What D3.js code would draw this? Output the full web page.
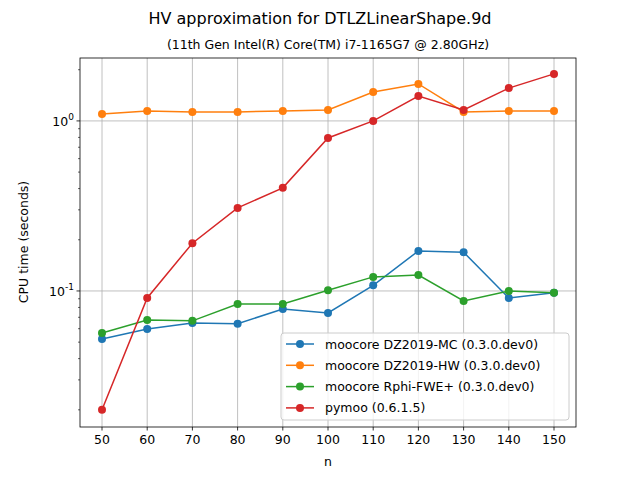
<!DOCTYPE html><html><head><meta charset="utf-8"><script src="https://cdn.jsdelivr.net/npm/d3@7"></script>
<style>body{margin:0;background:#fff}text{font-family:"DejaVu Sans",sans-serif}</style></head><body><svg id="c" width="640" height="480"></svg>
<script>
const ns=[50,60,70,80,90,100,110,120,130,140,150];
const names=["moocore DZ2019-MC (0.3.0.dev0)","moocore DZ2019-HW (0.3.0.dev0)","moocore Rphi-FWE+ (0.3.0.dev0)","pymoo (0.6.1.5)"];
const colors=["#1f77b4","#ff7f0e","#2ca02c","#d62728"];
const mc=[0.0522,0.0598,0.0648,0.0641,0.0784,0.0742,0.108,0.172,0.169,0.091,0.0975];
const hw=[1.10,1.145,1.13,1.13,1.145,1.16,1.48,1.65,1.13,1.145,1.145];
const fwe=[0.0566,0.0675,0.0667,0.0839,0.0839,0.101,0.121,0.124,0.0873,0.1,0.0975];
const pymoo=[0.02,0.091,0.191,0.308,0.404,0.794,1.0,1.40,1.16,1.56,1.89];
const series=[mc,hw,fwe,pymoo];
const svg=d3.select("#c");
const L=80,R=576,T=58,B=427;
const x=d3.scaleLinear().domain([50,150]).range([102,554]);
const y=d3.scaleLog().domain([Math.pow(10,-1.8),Math.pow(10,0.37)]).range([B,T]);
const g=svg.append("g");
ns.forEach(n=>g.append("line").attr("x1",x(n)).attr("x2",x(n)).attr("y1",T).attr("y2",B).attr("stroke","#b0b0b0").attr("stroke-width",0.8));
[0.1,1].forEach(v=>g.append("line").attr("x1",L).attr("x2",R).attr("y1",y(v)).attr("y2",y(v)).attr("stroke","#b0b0b0").attr("stroke-width",0.8));
series.forEach((s,i)=>{
 const line=d3.line().x((d,j)=>x(ns[j])).y(d=>y(d));
 g.append("path").attr("d",line(s)).attr("fill","none").attr("stroke",colors[i]).attr("stroke-width",1.5);
 s.forEach((d,j)=>g.append("circle").attr("cx",x(ns[j])).attr("cy",y(d)).attr("r",4).attr("fill",colors[i]));
});
svg.append("rect").attr("x",L).attr("y",T).attr("width",R-L).attr("height",B-T).attr("fill","none").attr("stroke","#000").attr("stroke-width",0.8);
ns.forEach(n=>{svg.append("line").attr("x1",x(n)).attr("x2",x(n)).attr("y1",B).attr("y2",B+3.5).attr("stroke","#000").attr("stroke-width",0.8);
 svg.append("text").attr("x",x(n)).attr("y",B+17).attr("text-anchor","middle").attr("font-size",13.9*0.9).text(n);});
const minors=[];[0.01,0.1,1].forEach(b=>{for(let k=2;k<10;k++)minors.push(b*k);});
minors.filter(v=>y(v)>=T&&y(v)<=B).forEach(v=>svg.append("line").attr("x1",L-2).attr("x2",L).attr("y1",y(v)).attr("y2",y(v)).attr("stroke","#000").attr("stroke-width",0.6));
[[0.1,"-1"],[1,"0"]].forEach(([v,e])=>{svg.append("line").attr("x1",L-3.5).attr("x2",L).attr("y1",y(v)).attr("y2",y(v)).attr("stroke","#000").attr("stroke-width",0.8);
 const t=svg.append("text").attr("x",L-6).attr("y",y(v)+5).attr("text-anchor","end").attr("font-size",12.5);
 t.append("tspan").text("10");t.append("tspan").attr("dy",-6).attr("font-size",9).text(e);});
svg.append("text").attr("x",328).attr("y",466).attr("text-anchor","middle").attr("font-size",12.5).text("n");
svg.append("text").attr("transform","translate(28,242) rotate(-90)").attr("text-anchor","middle").attr("font-size",12.5).text("CPU time (seconds)");
svg.append("text").attr("x",320).attr("y",24).attr("text-anchor","middle").attr("font-size",16).text("HV approximation for DTLZLinearShape.9d");
svg.append("text").attr("x",328).attr("y",49).attr("text-anchor","middle").attr("font-size",12.5).text("(11th Gen Intel(R) Core(TM) i7-1165G7 @ 2.80GHz)");
const lg=svg.append("g");
lg.append("rect").attr("x",281).attr("y",333).attr("width",288).attr("height",87).attr("rx",3).attr("fill","#fff").attr("fill-opacity",0.8).attr("stroke","#ccc");
names.forEach((nm,i)=>{const yy=344+i*21.3;
 lg.append("line").attr("x1",286).attr("x2",314).attr("y1",yy).attr("y2",yy).attr("stroke",colors[i]).attr("stroke-width",1.5);
 lg.append("circle").attr("cx",300).attr("cy",yy).attr("r",4).attr("fill",colors[i]);
 lg.append("text").attr("x",325).attr("y",yy+4.5).attr("font-size",12.5).text(nm);});
</script></body></html>
